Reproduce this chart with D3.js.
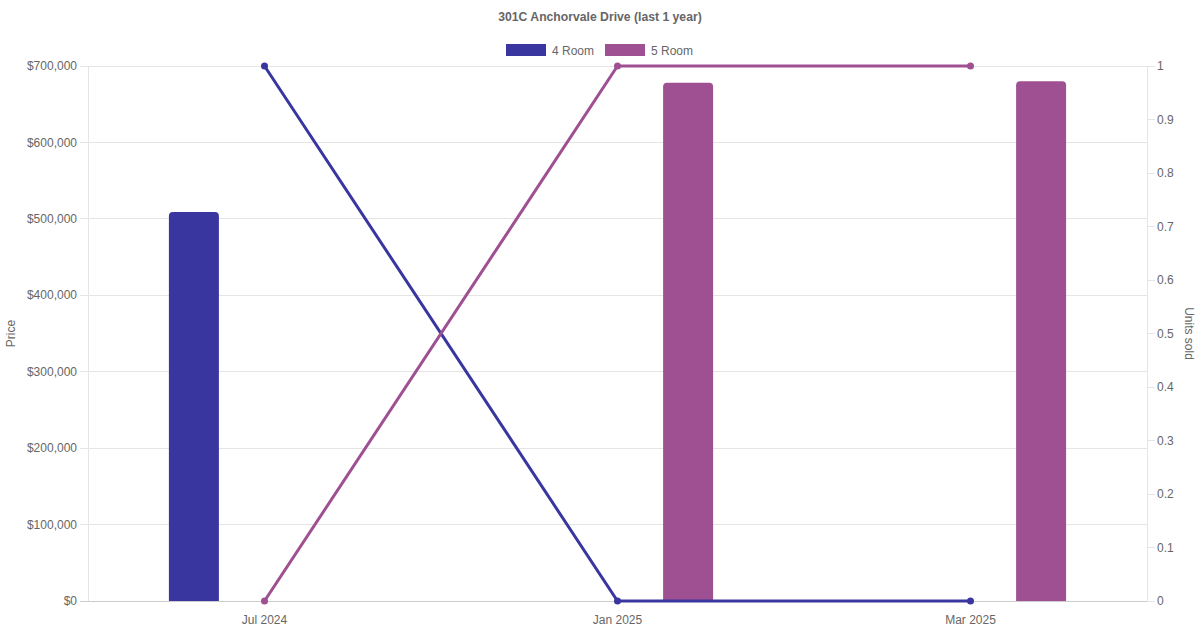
<!DOCTYPE html>
<html><head><meta charset="utf-8">
<script src="https://cdn.jsdelivr.net/npm/d3@7"></script>
<style>body{margin:0;background:#fff;font-family:"Liberation Sans",Arial,sans-serif;}</style>
</head><body><svg id="c" width="1200" height="630"></svg>
<script>
const categories = ["Jul 2024", "Jan 2025", "Mar 2025"];
const seriesNames = ["4 Room", "5 Room"];
const colors = ["#3a36a0", "#9e5093"];
const priceValues = [[509000, null, null], [null, 678000, 680000]];
const unitsValues = [[1, 0, 0], [0, 1, 1]];
const priceTicks = [0,100000,200000,300000,400000,500000,600000,700000];
const unitTicks = [0,0.1,0.2,0.3,0.4,0.5,0.6,0.7,0.8,0.9,1];

const svg = d3.select("#c");
const L = 88, R = 1147, T = 66, B = 601;
const x = d3.scaleBand().domain(categories).range([L, R]);
const xs = d3.scaleBand().domain(seriesNames).range([0, x.bandwidth()]).paddingInner(0).paddingOuter(0.25);
const yP = d3.scaleLinear().domain([0, 700000]).range([B, T]);
const yU = d3.scaleLinear().domain([0, 1]).range([B, T]);
const textCol = "#666";

// grid
svg.append("g").selectAll("line").data(priceTicks).join("line")
  .attr("x1", L - 8).attr("x2", R).attr("y1", d => yP(d)).attr("y2", d => yP(d))
  .attr("stroke", d => d === 0 ? "#ccc" : "#e5e5e5").attr("stroke-width", 1).attr("shape-rendering","crispEdges");
svg.append("line").attr("x1", L).attr("x2", L).attr("y1", T).attr("y2", B).attr("stroke", "#e5e5e5").attr("shape-rendering","crispEdges");
svg.append("line").attr("x1", R).attr("x2", R).attr("y1", T).attr("y2", B).attr("stroke", "#e5e5e5").attr("shape-rendering","crispEdges");
// right ticks
svg.append("g").selectAll("line").data(unitTicks).join("line")
  .attr("x1", R).attr("x2", R + 8).attr("y1", d => yU(d)).attr("y2", d => yU(d))
  .attr("stroke", "#e5e5e5").attr("shape-rendering","crispEdges");

// left labels
svg.append("g").selectAll("text").data(priceTicks).join("text")
  .attr("x", L - 11).attr("y", d => yP(d)).attr("dy", "0.35em").attr("text-anchor", "end")
  .attr("font-size", 12).attr("fill", textCol).text(d => "$" + d3.format(",")(d));
svg.append("g").selectAll("text").data(unitTicks).join("text")
  .attr("x", R + 10).attr("y", d => yU(d)).attr("dy", "0.35em").attr("text-anchor", "start")
  .attr("font-size", 12).attr("fill", textCol).text(d => d3.format("")(d));
svg.append("g").selectAll("text").data(categories).join("text")
  .attr("x", d => x(d) + x.bandwidth() / 2).attr("y", 624).attr("text-anchor", "middle")
  .attr("font-size", 12).attr("fill", textCol).text(d => d);

svg.append("text").attr("transform", `translate(15,${(T + B) / 2}) rotate(-90)`).attr("text-anchor", "middle")
  .attr("font-size", 12).attr("fill", textCol).text("Price");
svg.append("text").attr("transform", `translate(1185,${(T + B) / 2}) rotate(90)`).attr("text-anchor", "middle")
  .attr("font-size", 12).attr("fill", textCol).text("Units sold");

// title
svg.append("text").attr("x", 600).attr("y", 21).attr("text-anchor", "middle").attr("font-size", 12.2)
  .attr("font-weight", "bold").attr("fill", textCol).text("301C Anchorvale Drive (last 1 year)");

// legend
const leg = [{x: 506}, {x: 605}];
seriesNames.forEach((s, i) => {
  svg.append("rect").attr("x", leg[i].x).attr("y", 44).attr("width", 40).attr("height", 12).attr("fill", colors[i]);
  svg.append("text").attr("x", leg[i].x + 46).attr("y", 54.5).attr("font-size", 12).attr("fill", textCol).text(s);
});

// bars
const bw = 50, rr = 4;
function barPath(x0, y0, w, h) {
  return `M${x0},${y0 + h}V${y0 + rr}Q${x0},${y0} ${x0 + rr},${y0}H${x0 + w - rr}Q${x0 + w},${y0} ${x0 + w},${y0 + rr}V${y0 + h}Z`;
}
seriesNames.forEach((s, i) => {
  const data = categories.map((c, j) => ({c, v: priceValues[i][j]})).filter(d => d.v != null);
  svg.append("g").selectAll("path").data(data).join("path")
    .attr("d", d => {
      const cx = x(d.c) + xs(s) + xs.bandwidth() / 2;
      return barPath(cx - bw / 2, yP(d.v), bw, B - yP(d.v));
    }).attr("fill", colors[i]);
});

// lines
seriesNames.forEach((s, i) => {
  const data = categories.map((c, j) => ({c, v: unitsValues[i][j]}));
  const line = d3.line().x(d => x(d.c) + x.bandwidth() / 2).y(d => yU(d.v));
  svg.append("path").datum(data).attr("d", line).attr("fill", "none").attr("stroke", colors[i]).attr("stroke-width", 3);
  svg.append("g").selectAll("circle").data(data).join("circle")
    .attr("cx", d => x(d.c) + x.bandwidth() / 2).attr("cy", d => yU(d.v)).attr("r", 3.5).attr("fill", colors[i]);
});
</script></body></html>
